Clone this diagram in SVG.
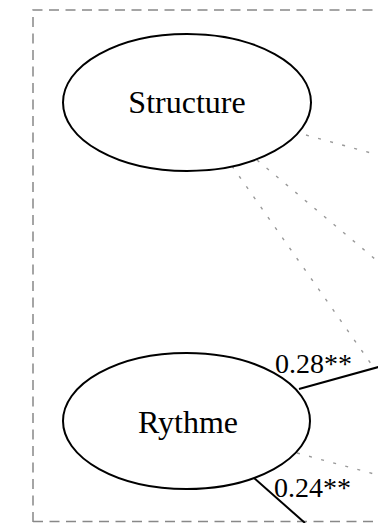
<svg xmlns="http://www.w3.org/2000/svg" width="378" height="523" viewBox="0 0 378 523">
<style>
.node ellipse{fill:#fff;stroke:#000;stroke-width:2}
.node text{font-family:"Liberation Serif",serif;font-size:32px;text-anchor:middle;fill:#000}
.lbl{font-family:"Liberation Serif",serif;font-size:28px;fill:#000}
.dot{stroke:#999;stroke-width:1.4;stroke-dasharray:3,9.5;fill:none}
.sol{stroke:#000;stroke-width:2;fill:none}
.box{fill:none;stroke:#888;stroke-width:1.5;stroke-dasharray:10,6.5}
</style>
<rect width="378" height="523" fill="#fff"/>
<path class="box" d="M33,522 V10 H400 M33,521.5 H400"/>
<g id="connectors">
<line class="dot" x1="306" y1="135" x2="400" y2="161"/>
<line class="dot" x1="257" y1="160" x2="400" y2="280"/>
<line class="dot" x1="232" y1="166" x2="374" y2="368"/>
<line class="dot" x1="297" y1="453" x2="400" y2="481"/>
<line class="sol" x1="299" y1="389" x2="400" y2="361"/>
<line class="sol" x1="254" y1="478" x2="305" y2="523"/>
<text class="lbl" x="275" y="373">0.28**</text>
<text class="lbl" x="274" y="497">0.24**</text>
</g>
<g id="structure" class="node">
<ellipse cx="187" cy="102.5" rx="124" ry="68.5"/>
<text x="187" y="113.3">Structure</text>
</g>
<g id="rythme" class="node">
<ellipse cx="186.5" cy="421" rx="123.5" ry="68"/>
<text x="188" y="433">Rythme</text>
</g>
</svg>
